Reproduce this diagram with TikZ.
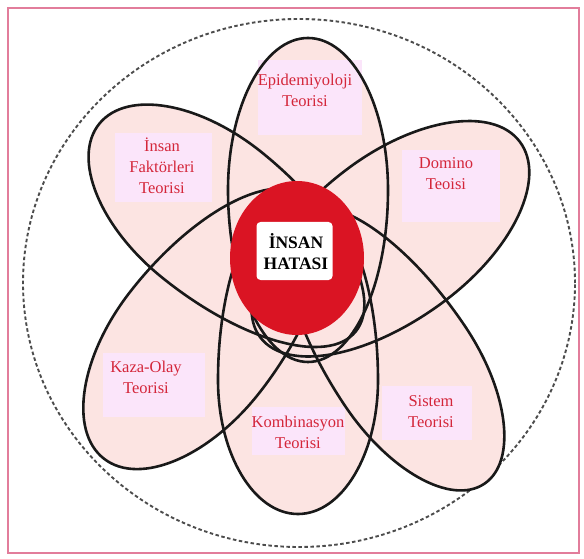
\documentclass[tikz,border=0pt]{standalone}
\usepackage{fontspec}
\setmainfont{Liberation Serif}
\usetikzlibrary{shapes.geometric}
\definecolor{petalfill}{RGB}{252,228,226}
\definecolor{boxfill}{RGB}{251,229,250}
\definecolor{redc}{RGB}{218,20,35}
\definecolor{bordercol}{RGB}{226,125,155}
\definecolor{labelred}{RGB}{212,38,58}
\newcommand{\petalpath}[6]{%
  \path[shift={(#1,#2)}, rotate=#3] (0,#6) arc[start angle=90,end angle=-90,x radius=#4,y radius=#6]
    arc[start angle=270,end angle=90,x radius=#5,y radius=#6] -- cycle;}
\tikzset{
  petalfillstyle/.style={fill=petalfill},
  petalline/.style={draw=black!90, line width=2.6pt},
  tbox/.style={fill=boxfill, draw=none, inner sep=0pt},
  lbl/.style={text=labelred, align=center, font=\fontsize{16.5}{21}\selectfont, inner sep=0pt},
}
\begin{document}
\begin{tikzpicture}[x=1pt,y=1pt]
\useasboundingbox (0,0) rectangle (584,558);
\fill[white] (0,0) rectangle (584,558);
% outer border
\draw[bordercol, line width=2pt] (8,5) rectangle (579,550);
% dashed outer circle
\draw[black!70, line width=1.9pt, dash pattern=on 3.5pt off 2.5pt] (299,275) ellipse [x radius=276, y radius=264];
% petal fills
\begin{scope}[every path/.style={petalfillstyle}]
\petalpath{308}{368}{90}{152}{172}{80}
\petalpath{298}{178}{-90}{134}{190}{80}
\petalpath{212}{343}{141}{145}{185}{80}
\petalpath{396}{323}{37}{155}{170}{82}
\petalpath{195}{216}{232}{148}{184}{82}
\petalpath{405}{192}{-56}{142}{185}{72}
\end{scope}
% lavender boxes
\node[tbox, minimum width=104, minimum height=75] (bE) at (310,460.5) {};
\node[tbox, minimum width=97, minimum height=69] (bI) at (163.5,390.5) {};
\node[tbox, minimum width=98, minimum height=72] (bD) at (451,372) {};
\node[tbox, minimum width=102, minimum height=64] (bK) at (154,173) {};
\node[tbox, minimum width=93, minimum height=48] (bC) at (298.5,127) {};
\node[tbox, minimum width=90, minimum height=54] (bS) at (427,145) {};
% petal outlines
\begin{scope}[every path/.style={petalline}]
\petalpath{308}{368}{90}{152}{172}{80}
\petalpath{298}{178}{-90}{134}{190}{80}
\petalpath{212}{343}{141}{145}{185}{80}
\petalpath{396}{323}{37}{155}{170}{82}
\petalpath{195}{216}{232}{148}{184}{82}
\petalpath{405}{192}{-56}{142}{185}{72}
\end{scope}
% central red circle
\node[ellipse, fill=redc, minimum width=134, minimum height=154, inner sep=0pt] (core) at (297,300) {};
\node[fill=white, rounded corners=4pt, minimum width=76, minimum height=58, inner sep=0pt] (corebox) at (294.5,307) {};
\node[align=center, font=\bfseries\fontsize{17.5}{21}\selectfont, inner sep=0pt] (coretext) at (296,306) {İNSAN\\HATASI};
% labels
\node[lbl] (lE) at (305,468) {Epidemiyoloji\\Teorisi};
\node[lbl] (lI) at (162,392) {İnsan\\Faktörleri\\Teorisi};
\node[lbl] (lD) at (446,384) {Domino\\Teoisi};
\node[lbl] (lK) at (146,181) {Kaza-Olay\\Teorisi};
\node[lbl] (lC) at (298,126) {Kombinasyon\\Teorisi};
\node[lbl] (lS) at (431,146) {Sistem\\Teorisi};
\end{tikzpicture}
\end{document}
